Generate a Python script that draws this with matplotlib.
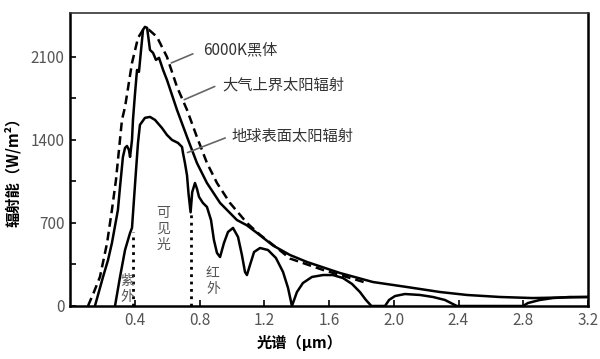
import matplotlib
matplotlib.use("Agg")
import matplotlib.pyplot as plt

plt.rcParams["font.family"] = ["Noto Sans CJK SC", "DejaVu Sans"]

# 6000K blackbody (dashed)
bbX = [0.111, 0.148, 0.185, 0.229, 0.259, 0.284, 0.321, 0.340, 0.383, 0.420, 0.451, 0.488,
       0.537, 0.599, 0.661, 0.723, 0.784, 0.846, 0.908, 0.988, 1.093, 1.174, 1.279, 1.359,
       1.563, 1.773, 1.834]
bbY = [0, 118, 245, 531, 810, 1063, 1569, 1678, 2049, 2260, 2328, 2328,
       2269, 2100, 1847, 1653, 1425, 1206, 1037, 869, 700, 600, 489, 400,
       304, 219, 194]

# top of atmosphere
toaX = [0.154, 0.204, 0.235, 0.259, 0.296, 0.309, 0.327, 0.340, 0.352, 0.364, 0.371, 0.383,
        0.389, 0.401, 0.414, 0.426, 0.439, 0.451, 0.463, 0.476, 0.482, 0.494, 0.513, 0.531,
        0.550, 0.575, 0.599, 0.661, 0.723, 0.784, 0.846, 0.927, 1.031, 1.093, 1.155, 1.254,
        1.359, 1.464, 1.668, 1.872, 2.082, 2.285, 2.452, 2.656, 2.860, 3.2]
toaY = [0, 245, 388, 531, 810, 1004, 1257, 1333, 1349, 1316, 1257, 1400,
        1569, 1780, 1990, 1974, 2159, 2328, 2353, 2345, 2286, 2159, 2134, 2075,
        2092, 1990, 1906, 1653, 1425, 1206, 1037, 869, 725, 680, 616, 510,
        430, 371, 278, 202, 160, 118, 93, 76, 67, 76]

# earth surface
sfcX = [0.278, 0.309, 0.340, 0.371, 0.383, 0.395, 0.408, 0.420, 0.432, 0.463, 0.494, 0.525,
        0.568, 0.599, 0.630, 0.667, 0.692, 0.698, 0.710, 0.723, 0.732, 0.745, 0.755, 0.772,
        0.784, 0.797, 0.821, 0.846, 0.871, 0.889, 0.908, 0.927, 0.951, 0.976, 1.007, 1.038,
        1.062, 1.081, 1.093, 1.112, 1.137, 1.174, 1.223, 1.272, 1.316, 1.347, 1.371,
        1.402, 1.439, 1.495, 1.563, 1.624, 1.686, 1.742, 1.791, 1.828, 1.862,
        1.946, 1.971, 2.008, 2.069, 2.162, 2.242, 2.316, 2.365, 2.390,
        2.798, 2.829, 2.903, 2.983, 3.088, 3.2]
sfcY = [0, 245, 472, 616, 658, 894, 1147, 1375, 1527, 1586, 1594, 1569,
        1501, 1442, 1400, 1375, 1341, 1290, 1206, 1100, 950, 790, 960, 1037,
        990, 920, 869, 835, 725, 557, 447, 413, 531, 624, 658, 582,
        430, 287, 261, 346, 455, 489, 472, 405, 287, 152, 0,
        118, 194, 245, 261, 261, 236, 186, 118, 51, 0,
        0, 51, 84, 101, 93, 76, 51, 17, 0,
        0, 25, 51, 67, 76, 76]

uvEdge = [0.39, 624]
irEdge = [0.748, 800]

yTicks = [0, 700, 1400, 2100]
xTicks = [0.4, 0.8, 1.2, 1.6, 2.0, 2.4, 2.8, 3.2]

fig = plt.figure(figsize=(6, 3.59), dpi=100)
ax = fig.add_axes([70 / 600, 1 - 306 / 359, 518 / 600, 293 / 359])

ax.plot(bbX, bbY, color="black", linestyle=(0, (3.5, 2)), linewidth=1.8)
ax.plot(toaX, toaY, color="black", linewidth=1.8)
ax.plot(sfcX, sfcY, color="black", linewidth=1.8)
ax.plot([uvEdge[0], uvEdge[0]], [0, uvEdge[1]], color="black", linestyle=":", linewidth=2)
ax.plot([irEdge[0], irEdge[0]], [0, irEdge[1]], color="black", linestyle=":", linewidth=2)

ax.set_xlim(0, 3.2)
ax.set_ylim(0, 2470)
ax.set_xticks(xTicks)
ax.set_xticklabels(["%.1f" % t for t in xTicks])
ax.set_yticks(yTicks)
ax.set_yticks([350, 1050, 1750], minor=True)
ax.tick_params(axis="both", which="both", direction="in", length=4, width=1.2,
               labelsize=11, labelcolor="#555555", pad=4)

for side in ["left", "bottom", "right"]:
    ax.spines[side].set_linewidth(1.8)
ax.spines["top"].set_linewidth(1.2)
ax.spines["top"].set_color("#333333")

ax.set_xlabel("光谱（μm）", fontsize=11, fontweight="bold")
ax.xaxis.set_label_coords((300 - 70) / 518, -0.1)
ax.set_ylabel("辐射能（W/m²）", fontsize=11, fontweight="bold")
ax.yaxis.set_label_coords(-0.095, 0.47)

gray = "#555555"
ax.text(0.352, 143, "紫\n外", fontsize=10, color=gray, ha="center", va="center", linespacing=1.1)
ax.text(0.575, 650, "可\n见\n光", fontsize=10, color=gray, ha="center", va="center", linespacing=1.15)
ax.text(0.883, 210, "红\n外", fontsize=10, color=gray, ha="center", va="center", linespacing=1.2)

ax.text(0.82, 2160, "6000K黑体", fontsize=11, color="#333333", ha="left", va="center")
ax.annotate("", xy=(0.61, 2040), xytext=(0.775, 2135),
            arrowprops=dict(arrowstyle="-", color="#666666", lw=1.2))
ax.text(0.94, 1860, "大气上界太阳辐射", fontsize=11, color="#333333", ha="left", va="center")
ax.annotate("", xy=(0.69, 1730), xytext=(0.91, 1860),
            arrowprops=dict(arrowstyle="-", color="#666666", lw=1.2))
ax.text(1.0, 1430, "地球表面太阳辐射", fontsize=11, color="#333333", ha="left", va="center")
ax.annotate("", xy=(0.71, 1285), xytext=(0.975, 1425),
            arrowprops=dict(arrowstyle="-", color="#666666", lw=1.2))

fig.savefig("out.png", dpi=100)
